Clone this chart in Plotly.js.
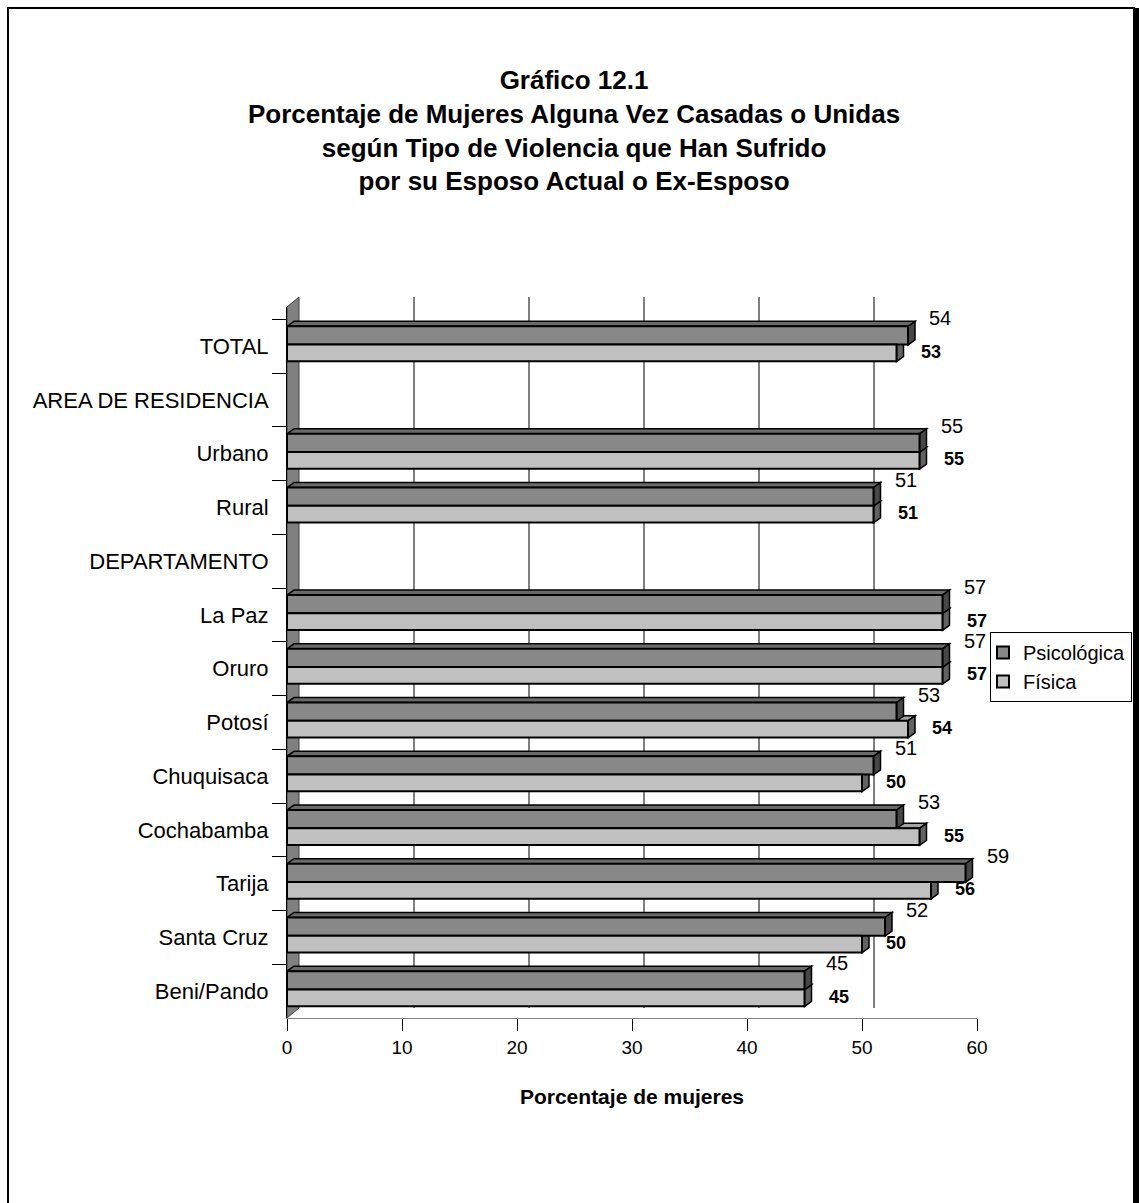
<!DOCTYPE html>
<html>
<head>
<meta charset="utf-8">
<script src="https://cdn.plot.ly/plotly-3.0.1.min.js"></script>
<style>
html,body{margin:0;padding:0;background:#ffffff;}
#chart{width:1139px;height:1203px;}
</style>
</head>
<body>
<div id="chart"></div>
<script>
// ---------- data ----------
const categories = ['TOTAL', 'AREA DE RESIDENCIA', 'Urbano', 'Rural', 'DEPARTAMENTO', 'La Paz', 'Oruro', 'Potosí', 'Chuquisaca', 'Cochabamba', 'Tarija', 'Santa Cruz', 'Beni/Pando'];
const psicologica = [54, null, 55, 51, null, 57, 57, 53, 51, 53, 59, 52, 45];
const fisica      = [53, null, 55, 51, null, 57, 57, 54, 50, 55, 56, 50, 45];
const seriesNames = ['Psicológica', 'Física'];
const xTickVals = [0, 10, 20, 30, 40, 50, 60];
const titleLines = ['Gráfico 12.1', 'Porcentaje de Mujeres Alguna Vez Casadas o Unidas', 'según Tipo de Violencia que Han Sufrido', 'por su Esposo Actual o Ex-Esposo'];
const xTitle = 'Porcentaje de mujeres';

// ---------- layout constants ----------
const W = 1139, H = 1203;
const M = {l: 287, r: 162, t: 307, b: 185, autoexpand: false};
const plotW = W - M.l - M.r, plotH = H - M.t - M.b;
const XMAX = 60;
const pxX = plotW / XMAX;
const pxCat = plotH / categories.length;
const WALL_DX = 12, WALL_DY = 10, BAR_DX = 7, BAR_DY = 5;
const PS_OFF = -0.37, PS_W = 0.34, FI_OFF = -0.03, FI_W = 0.31;
const FONT = '"Liberation Sans", Arial, sans-serif';
const C_PS = '#888888', C_PS_TOP = '#6a6a6a', C_PS_CAP = '#474747';
const C_FI = '#c0c0c0', C_FI_TOP = '#a2a2a2', C_FI_CAP = '#626262';

const shapes = [];
// outer frame
shapes.push({type: 'rect', xref: 'paper', yref: 'paper', xsizemode: 'pixel', ysizemode: 'pixel',
  xanchor: 0, yanchor: 1, x0: 8 - M.l, x1: 1134 - M.l, y0: M.t - 8, y1: M.t - 1215,
  line: {color: '#000', width: 2}, layer: 'below'});
shapes.push({type: 'rect', xref: 'paper', yref: 'paper', xsizemode: 'pixel', ysizemode: 'pixel',
  xanchor: 0, yanchor: 1, x0: 1134 - M.l, x1: 1140 - M.l, y0: M.t - 8, y1: M.t - 1215,
  fillcolor: '#000', line: {width: 0}, layer: 'below'});
// left wall (3D)
shapes.push({type: 'path', xref: 'x', yref: 'paper', xsizemode: 'pixel', ysizemode: 'pixel',
  xanchor: 0, yanchor: 0,
  path: `M0,0 L0,${plotH} L${WALL_DX},${plotH + WALL_DY} L${WALL_DX},${WALL_DY} Z`,
  fillcolor: '#808080', line: {color: '#404040', width: 1}, layer: 'below'});
// back gridlines
xTickVals.slice(1).forEach(v => {
  shapes.push({type: 'path', xref: 'x', yref: 'paper', xsizemode: 'pixel', ysizemode: 'pixel',
    xanchor: v, yanchor: 0,
    path: `M${WALL_DX},${WALL_DY} L${WALL_DX},${plotH + WALL_DY}`,
    line: {color: '#000', width: 1}, layer: 'below'});
});
// floor right edge
shapes.push({type: 'path', xref: 'x', yref: 'paper', xsizemode: 'pixel', ysizemode: 'pixel',
  xanchor: XMAX, yanchor: 0, path: `M0,0 L${WALL_DX},${WALL_DY}`,
  line: {color: '#000', width: 1}, layer: 'below'});

function barFaces(values, off, w, topCol, capCol) {
  const h = w * pxCat;
  values.forEach((v, i) => {
    if (v === null) return;
    const L = v * pxX;
    const base = {type: 'path', xref: 'x', yref: 'y', xsizemode: 'pixel', ysizemode: 'pixel',
      xanchor: v, yanchor: i + off, layer: 'below', line: {color: '#000', width: 1.5}};
    shapes.push(Object.assign({}, base, {
      path: `M${-L},0 L0,0 L${BAR_DX},${BAR_DY} L${-L + BAR_DX},${BAR_DY} Z`, fillcolor: topCol}));
    shapes.push(Object.assign({}, base, {
      path: `M0,0 L0,${-h} L${BAR_DX},${-h + BAR_DY} L${BAR_DX},${BAR_DY} Z`, fillcolor: capCol}));
  });
}
barFaces(fisica, FI_OFF, FI_W, C_FI_TOP, C_FI_CAP);
barFaces(psicologica, PS_OFF, PS_W, C_PS_TOP, C_PS_CAP);

const annotations = [];
psicologica.forEach((v, i) => {
  if (v === null) return;
  annotations.push({x: v, y: i + PS_OFF + PS_W / 2, xref: 'x', yref: 'y', text: String(v), showarrow: false,
    xanchor: 'left', yanchor: 'middle', xshift: 19, yshift: 17,
    font: {family: FONT, size: 20, color: '#000'}});
});
fisica.forEach((v, i) => {
  if (v === null) return;
  annotations.push({x: v, y: i + FI_OFF + FI_W / 2, xref: 'x', yref: 'y', text: '<b>' + v + '</b>', showarrow: false,
    xanchor: 'left', yanchor: 'middle', xshift: 22, yshift: 1,
    font: {family: FONT, size: 18, color: '#000'}});
});

const traces = [
  {type: 'bar', orientation: 'h', name: seriesNames[0], y: categories, x: psicologica,
   offset: PS_OFF, width: PS_W, marker: {color: C_PS, line: {color: '#000', width: 2}}, hoverinfo: 'skip'},
  {type: 'bar', orientation: 'h', name: seriesNames[1], y: categories, x: fisica,
   offset: FI_OFF, width: FI_W, marker: {color: C_FI, line: {color: '#000', width: 2}}, hoverinfo: 'skip'}
];

const layout = {
  width: W, height: H,
  margin: M,
  paper_bgcolor: '#ffffff', plot_bgcolor: 'rgba(0,0,0,0)',
  font: {family: FONT, color: '#000'},
  barmode: 'overlay',
  showlegend: true,
  title: {text: '<b>' + titleLines.join('<br>') + '</b>', font: {family: FONT, size: 26, color: '#000'},
    x: 0.504, xref: 'container', xanchor: 'center', y: 1 - 89 / H, yref: 'container', yanchor: 'middle'},
  xaxis: {range: [0, XMAX], tickvals: xTickVals, ticktext: xTickVals.map(String),
    showgrid: false, zeroline: false, showline: true, linecolor: '#808080', linewidth: 1,
    ticks: 'outside', ticklen: 12, tickcolor: '#000', tickwidth: 1,
    tickfont: {family: FONT, size: 19, color: '#000'},
    title: {text: '<b>' + xTitle + '</b>', font: {family: FONT, size: 21, color: '#000'}, standoff: 32},
    fixedrange: true},
  yaxis: {type: 'category', categoryorder: 'array', categoryarray: categories, autorange: 'reversed',
    showgrid: false, zeroline: false, showline: true, linecolor: '#000', linewidth: 1,
    ticks: 'outside', ticklen: 14, tickcolor: '#000', tickwidth: 1, tickson: 'boundaries',
    ticklabelstandoff: 13,
    tickfont: {family: FONT, size: 22, color: '#000'}, fixedrange: true},
  legend: {x: (990 - M.l) / plotW, y: (H - M.b - 632) / plotH, xanchor: 'left', yanchor: 'top',
    bordercolor: '#000', borderwidth: 1, bgcolor: '#ffffff', traceorder: 'normal', indentation: -8,
    font: {family: FONT, size: 20, color: '#000'}},
  shapes: shapes,
  annotations: annotations
};

Plotly.newPlot('chart', traces, layout, {staticPlot: true, displayModeBar: false});
</script>
</body>
</html>
